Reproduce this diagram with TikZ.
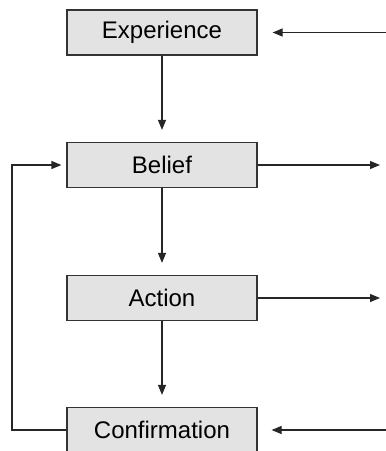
\documentclass[tikz,border=0pt]{standalone}
\usepackage{fontspec}
\setmainfont{Liberation Sans}
\usepackage{tikz}
\usetikzlibrary{arrows.meta}

\begin{document}
\begin{tikzpicture}[x=1pt,y=-1pt,
  stagebox/.style={draw=black!80,line width=1.2pt,fill=black!11,minimum width=190pt,minimum height=45pt,inner sep=0pt,font=\fontsize{24}{28}\selectfont},
  flow/.style={draw=black!85,line width=1.2pt,-{Triangle[length=10pt,width=8pt]}}]
\useasboundingbox (0,0) rectangle (386,451);
\node[stagebox] (exp) at (162,32.5) {Experience};
\node[stagebox] (bel) at (162,165) {Belief};
\node[stagebox] (act) at (162,298) {Action};
\node[stagebox] (con) at (162,430) {Confirmation};
\coordinate (expin) at (386,32.5);
\coordinate (belout) at (380,165);
\coordinate (actout) at (380,298);
\coordinate (conin) at (386,430);
\coordinate (loop) at (12,430);
\draw[flow] (expin) -- ([xshift=15pt]exp.east);
\draw[flow] (exp.south) -- ([yshift=12pt]bel.north);
\draw[flow] (bel.south) -- ([yshift=12pt]act.north);
\draw[flow] (act.south) -- ([yshift=12pt]con.north);
\draw[flow] (bel.east) -- (belout);
\draw[flow] (act.east) -- (actout);
\draw[flow] (conin) -- ([xshift=14pt]con.east);
\draw[flow] (con.west) -- (loop) |- ([xshift=-5pt]bel.west);
\end{tikzpicture}
\end{document}
